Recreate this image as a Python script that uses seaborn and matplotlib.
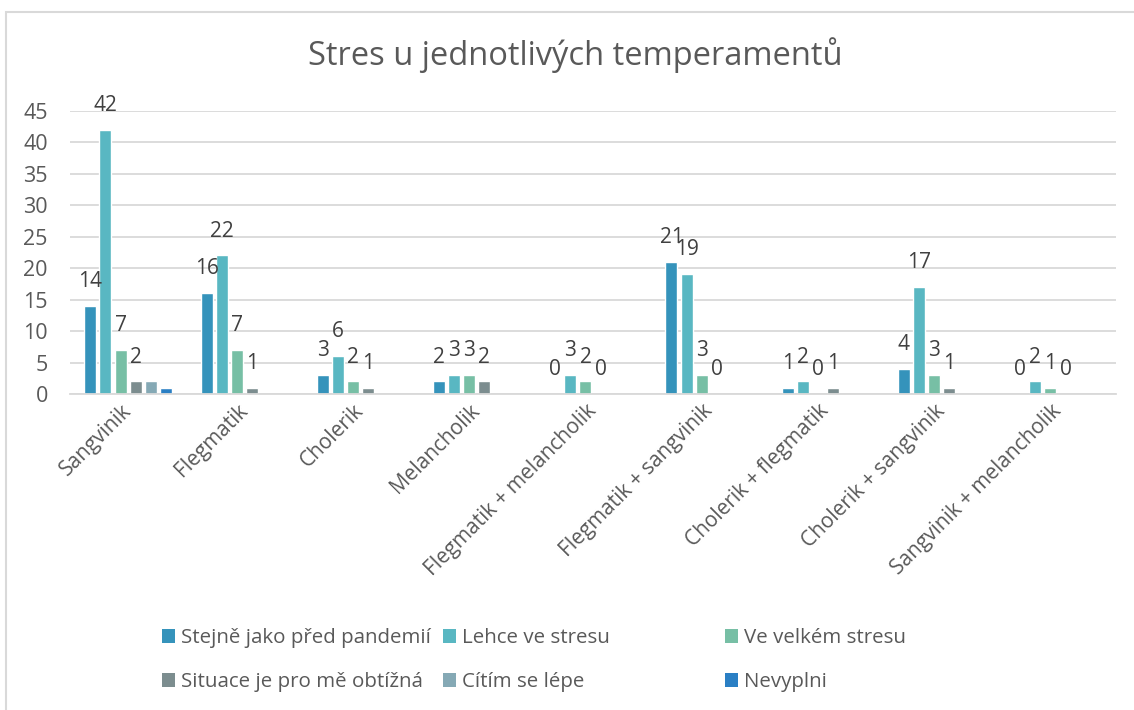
import numpy as np
import pandas as pd
import matplotlib
matplotlib.use("Agg")
import matplotlib.pyplot as plt
from matplotlib.patches import Patch, Rectangle
import seaborn as sns

categories = ["Sangvinik", "Flegmatik", "Cholerik", "Melancholik",
              "Flegmatik + melancholik", "Flegmatik + sangvinik",
              "Cholerik + flegmatik", "Cholerik + sangvinik",
              "Sangvinik + melancholik"]
series = ["Stejně jako před pandemií", "Lehce ve stresu", "Ve velkém stresu",
          "Situace je pro mě obtížná", "Cítím se lépe", "Nevyplni"]
nan = np.nan
stejne   = [14, 16, 3, 2, 0, 21, 1, 4, 0]
lehce    = [42, 22, 6, 3, 3, 19, 2, 17, 2]
velkem   = [7, 7, 2, 3, 2, 3, 0, 3, 1]
situace  = [2, 1, 1, 2, 0, 0, 1, 1, 0]
citim    = [2, nan, nan, nan, nan, nan, nan, nan, nan]
nevyplni = [1, nan, nan, nan, nan, nan, nan, nan, nan]
values = [stejne, lehce, velkem, situace, citim, nevyplni]
labeled_series = 4

colors = ["#3593BB", "#59B7C2", "#77BFA5", "#7C8D8F", "#85A9B5", "#2A7FC4"]

rows = []
for s, vals in zip(series, values):
    for c, v in zip(categories, vals):
        rows.append({"cat": c, "series": s, "value": v})
df = pd.DataFrame(rows)

sns.set_style("white")
plt.rcParams["font.family"] = ["Open Sans", "DejaVu Sans"]

fig = plt.figure(figsize=(11.34, 7.10), dpi=100)
ax = fig.add_axes([70/1134, 1-394/710, (1116-70)/1134, (394-110.7)/710])

sns.barplot(data=df, x="cat", y="value", hue="series", order=categories,
            hue_order=series, palette=colors, errorbar=None, width=0.78,
            gap=0.2, ax=ax, legend=False, saturation=1)

for i, cont in enumerate(ax.containers[:labeled_series]):
    ax.bar_label(cont, labels=[f"{int(b.get_height())}" for b in cont],
                 padding=10, fontsize=15, color="#404040")

ax.set_ylim(0, 45)
ax.set_yticks(np.arange(0, 46, 5))
ax.set_xlim(-0.5, len(categories) - 0.5)
ax.yaxis.grid(True, color="#d9d9d9", linewidth=1.3)
ax.set_axisbelow(True)
for sp in ["top", "right", "left"]:
    ax.spines[sp].set_visible(False)
ax.spines["bottom"].set_color("#d9d9d9")
ax.spines["bottom"].set_linewidth(1.3)
ax.set_xlabel("")
ax.set_ylabel("")
ax.tick_params(axis="y", length=0, pad=16, labelsize=15.5, labelcolor="#595959")
ax.tick_params(axis="x", length=0, pad=10, labelsize=15, labelcolor="#595959")
plt.setp(ax.get_xticklabels(), rotation=45, ha="right", va="center",
         rotation_mode="anchor")

fig.text(575/1134, 1-55/710, "Stres u jednotlivých temperamentů",
         ha="center", va="center", fontsize=23.5, color="#595959")

# legend size fitted so "Lehce ve stresu" spans ~148 px like the reference
renderer = fig.canvas.get_renderer()
probe = fig.text(0, 0, series[1], fontsize=14)
w = probe.get_window_extent(renderer).width
probe.remove()
leg_size = 14 * 148.0 / w
fs_px = leg_size * 100 / 72.0

handles = [Patch(facecolor=c, edgecolor="none") for c in colors]
pos_x = [162, 443, 725]
pos_y = [638, 682]
for k in range(6):
    col = k % 3
    row = k // 3
    fig.legend([handles[k]], [series[k]], loc="center left",
               bbox_to_anchor=(pos_x[col]/1134, 1-pos_y[row]/710),
               frameon=False, fontsize=leg_size, labelcolor="#595959",
               handlelength=13/fs_px, handleheight=13/fs_px,
               handletextpad=6/fs_px, borderpad=0, borderaxespad=0)

fig.patches.append(Rectangle((6/1134, -0.1), 1.2, 1.1 - 12/710,
                             transform=fig.transFigure, fill=False,
                             edgecolor="#d9d9d9", linewidth=1.5))

fig.savefig("out.png", dpi=100)
